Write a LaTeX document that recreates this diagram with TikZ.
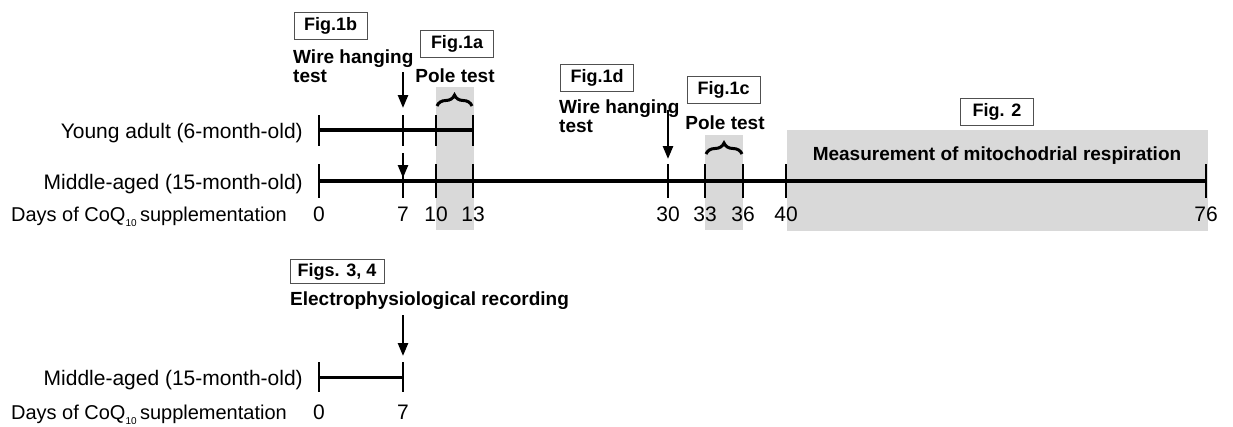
\documentclass[tikz,border=0pt]{standalone}
\usepackage{fontspec}
\setmainfont{Liberation Sans}
\usetikzlibrary{arrows.meta,decorations.pathreplacing}
\definecolor{shadegray}{RGB}{217,217,217}
\definecolor{boxline}{RGB}{80,80,80}
\tikzset{
  lab/.style={font=\fontsize{21}{21}\selectfont, inner sep=0pt},
  dayslab/.style={font=\fontsize{20}{20}\selectfont, inner sep=0pt},
  bl/.style={font=\bfseries\fontsize{19}{19}\selectfont, inner sep=0pt},
  figbox/.style={draw=boxline, line width=1pt, font=\bfseries\fontsize{18}{18}\selectfont, minimum width=73pt, minimum height=27pt, inner sep=0pt},
  tline/.style={line width=4.5pt},
  tline2/.style={line width=3pt},
  tick/.style={line width=2.5pt},
  arr/.style={line width=2.5pt, -{Triangle[length=13pt,width=10pt]}},
  bracestyle/.style={line width=3pt, decorate, decoration={brace, amplitude=11pt}},
}
\newcommand{\coqsub}{\raisebox{-5pt}{\fontsize{10}{10}\selectfont 10}}
\begin{document}
\begin{tikzpicture}[x=1pt,y=-1pt]
\useasboundingbox (0,0) rectangle (1233,426);
% shaded periods
\fill[shadegray] (436,87) rectangle (474,230);
\fill[shadegray] (705,135) rectangle (743,230);
\fill[shadegray] (787,130) rectangle (1208,231);

% coordinates of ticks
\foreach \n/\x in {0/319,7/403,10/436,13/473} {
  \coordinate (ya\n) at (\x,130);
  \coordinate (yat\n) at (\x,115);
  \coordinate (yab\n) at (\x,146);
}
\foreach \n/\x in {0/319,7/403,10/436,13/473,30/668,33/705,36/743,40/786,76/1206} {
  \coordinate (ma\n) at (\x,181);
  \coordinate (mat\n) at (\x,164);
  \coordinate (mab\n) at (\x,198);
}
\coordinate (ba0) at (319,377);
\coordinate (ba7) at (403,377);
\coordinate (bat0) at (319,362);
\coordinate (bab0) at (319,392);
\coordinate (bat7) at (403,362);
\coordinate (bab7) at (403,392);

% timelines
\draw[tline] (ya0) -- (ya13);
\draw[tline] (ma0) -- (ma76);
\draw[tline2] (ba0) -- (ba7);
\foreach \n in {0,7,10,13} \draw[tick] (yat\n) -- (yab\n);
\foreach \n in {0,7,10,13,30,33,36,40,76} \draw[tick] (mat\n) -- (mab\n);
\draw[tick] (bat0) -- (bab0);
\draw[tick] (bat7) -- (bab7);

% row labels
\node[lab, anchor=base east] (young) at (303,138) {Young adult (6-month-old)};
\node[lab, anchor=base east] (middle) at (303,189) {Middle-aged (15-month-old)};
\node[dayslab, anchor=base east] (days) at (287,221) {Days of CoQ\coqsub\,supplementation};
\foreach \n/\x in {0/319,7/403,10/436,13/473,30/668,33/705,36/743,40/786,76/1206} {
  \node[lab, anchor=base] (d\n) at (\x,221) {\n};
}

% Fig 1b
\node[figbox] (f1b) at (330.5,25.5) {Fig.1b};
\node[bl, anchor=base west] (wh1) at (293,63) {Wire hanging};
\node[bl, anchor=base west] (wh1t) at (293,82) {test};
\coordinate (a1s) at (403,72);
\coordinate (a1e) at (403,108);
\draw[arr] (a1s) -- (a1e);
\coordinate (a2s) at (403,153);
\coordinate (a2e) at (403,178);
\draw[arr] (a2s) -- (a2e);

% Fig 1a
\node[figbox] (f1a) at (457,44) {Fig.1a};
\node[bl, anchor=base] (pt1) at (455,82) {Pole test};
\coordinate (br1l) at (437,106);
\coordinate (br1r) at (472,106);
\draw[bracestyle] (br1l) -- (br1r);

% Fig 1d
\node[figbox] (f1d) at (597,78) {Fig.1d};
\node[bl, anchor=base west] (wh2) at (559,113) {Wire hanging};
\node[bl, anchor=base west] (wh2t) at (559,132) {test};
\coordinate (a3s) at (668,110);
\coordinate (a3e) at (668,159);
\draw[arr] (a3s) -- (a3e);

% Fig 1c
\node[figbox] (f1c) at (723.5,89.5) {Fig.1c};
\node[bl, anchor=base] (pt2) at (725,129) {Pole test};
\coordinate (br2l) at (706,154);
\coordinate (br2r) at (742,154);
\draw[bracestyle] (br2l) -- (br2r);

% Fig 2
\node[figbox] (f2) at (997,112) {Fig. 2};
\node[bl, anchor=base] (meas) at (997,160) {Measurement of mitochodrial respiration};

% Figs 3,4
\node[figbox, minimum width=94pt, minimum height=24pt] (f34) at (337,271.5) {Figs. 3, 4};
\node[bl, anchor=base west] (ephys) at (290,305) {Electrophysiological recording};
\coordinate (a4s) at (403,315);
\coordinate (a4e) at (403,356);
\draw[arr] (a4s) -- (a4e);
\node[lab, anchor=base east] (middle2) at (303,385) {Middle-aged (15-month-old)};
\node[dayslab, anchor=base east] (days2) at (287,419) {Days of CoQ\coqsub\,supplementation};
\node[lab, anchor=base] (e0) at (319,419) {0};
\node[lab, anchor=base] (e7) at (403,419) {7};
\end{tikzpicture}
\end{document}
